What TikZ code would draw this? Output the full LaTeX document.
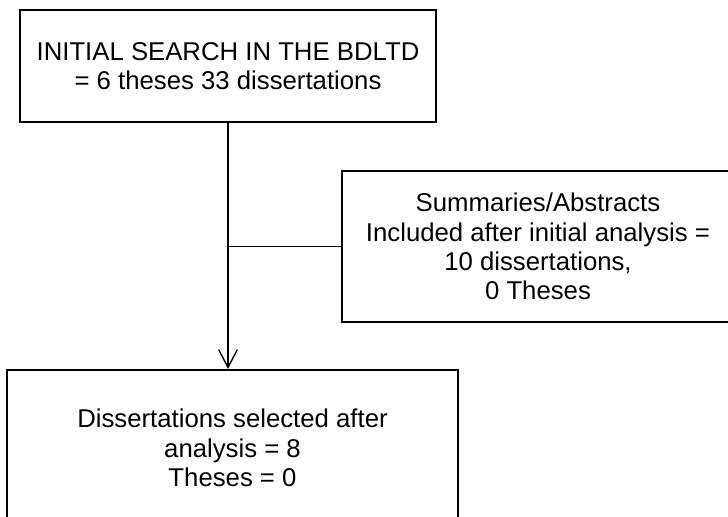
\documentclass[tikz,border=0pt]{standalone}
\usepackage{fontspec}
\setmainfont{Liberation Sans}
\usetikzlibrary{arrows.meta}
\tikzset{
	stagebox/.style={draw=black, line width=1.5pt, rectangle, align=center, inner sep=0pt,
		font=\fontsize{19.3pt}{22pt}\selectfont},
	flowline/.style={line width=1pt}
}

\begin{document}
\begin{tikzpicture}[x=0.75pt, y=-0.75pt]
		%%%%% START %%%%%
		\useasboundingbox (0, 0) rectangle (728, 517);
		
		\node[stagebox, minimum width=312pt, minimum height=84pt] (search) at (228, 66)
			{INITIAL SEARCH IN THE BDLTD\\= 6 theses 33 dissertations};
		
		\node[stagebox, minimum width=294pt, minimum height=113pt] (summaries) at (538, 246.5)
			{Summaries/Abstracts\\Included after initial analysis =\\10 dissertations,\\0 Theses};
		
		\node[stagebox, minimum width=338pt, minimum height=117pt] (selected) at (232.5, 448)
			{Dissertations selected after\\analysis = 8\\Theses = 0};
		
		\coordinate (branch) at (search.south |- summaries.west);
		\draw[flowline, -{Straight Barb[length=13.5pt, width=14pt]}] (search.south) -- (search.south |- selected.north);
		\draw[flowline] (branch) -- (summaries.west);
		%%%%% END %%%%%
	\end{tikzpicture}
\end{document}
